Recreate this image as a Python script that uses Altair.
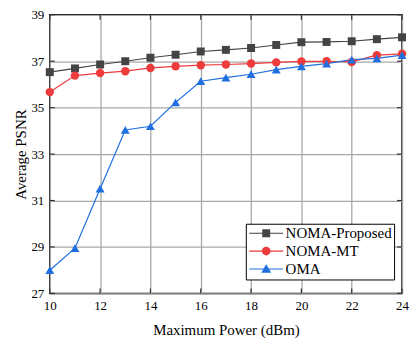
import altair as alt
import pandas as pd

power = [10, 11, 12, 13, 14, 15, 16, 17, 18, 19, 20, 21, 22, 23, 24]
noma_proposed = [36.53, 36.69, 36.86, 37.0, 37.15, 37.28, 37.42, 37.49, 37.57, 37.70, 37.82, 37.83, 37.86, 37.95, 38.03]
noma_mt = [35.67, 36.38, 36.49, 36.57, 36.71, 36.78, 36.83, 36.86, 36.90, 36.95, 36.99, 37.0, 36.97, 37.26, 37.32]
oma = [28.0, 28.95, 31.51, 34.04, 34.2, 35.23, 36.14, 36.29, 36.44, 36.64, 36.78, 36.9, 37.07, 37.12, 37.26]

series = ["NOMA-Proposed", "NOMA-MT", "OMA"]
colors = ["#444444", "#ee3b3b", "#1f6fe0"]
x_ticks = [10, 12, 14, 16, 18, 20, 22, 24]
y_ticks = [27, 29, 31, 33, 35, 37, 39]

rows = []
for name, vals in zip(series, [noma_proposed, noma_mt, oma]):
    for p, v in zip(power, vals):
        rows.append({"power": p, "psnr": v, "series": name})
df = pd.DataFrame(rows)

FONT = "Liberation Serif"
W, H = 354, 280

xscale = alt.Scale(domain=[10, 24], nice=False, zero=False)
yscale = alt.Scale(domain=[27, 39], nice=False, zero=False)

xaxis = alt.Axis(values=x_ticks, title="Maximum Power (dBm)", grid=True, ticks=False,
                 labelPadding=6, titlePadding=10, format="d", labelFlush=False)
yaxis = alt.Axis(values=y_ticks, title="Average PSNR", grid=True, ticks=False,
                 labelPadding=6, titlePadding=2, format="d", labelFlush=False)

# legend glyphs: thin bar (line) + marker, in unit coordinates
legend_paths = [
    "M-4.25,-0.14H4.25V0.14H-4.25Z M-1,-1H1V1H-1Z",
    "M-4.25,-0.14H4.25V0.14H-4.25Z M-1.1,0A1.1,1.1,0,1,1,1.1,0A1.1,1.1,0,1,1,-1.1,0Z",
    "M-4.25,-0.14H4.25V0.14H-4.25Z M0,-1.2L1.25,0.95H-1.25Z",
]

legend = alt.Legend(
    title=None,
    orient="none",
    legendX=197,
    legendY=210,
    labelFont=FONT,
    labelFontSize=15,
    labelColor="#000000",
    symbolSize=64,
    symbolOffset=11,
    labelOffset=12,
    symbolOpacity=1,
    symbolStrokeWidth=0,
    rowPadding=2,
    padding=2,
    strokeColor="#000000",
    fillColor="#ffffff",
)

base = alt.Chart(df)

lines = base.mark_line(strokeWidth=1.2).encode(
    x=alt.X("power:Q", scale=xscale, axis=xaxis),
    y=alt.Y("psnr:Q", scale=yscale, axis=yaxis),
    color=alt.Color("series:N", scale=alt.Scale(domain=series, range=colors), legend=None),
    detail="series:N",
)

points = base.mark_point(filled=True, opacity=1).encode(
    x=alt.X("power:Q", scale=xscale, axis=xaxis),
    y=alt.Y("psnr:Q", scale=yscale, axis=yaxis),
    color=alt.Color("series:N", scale=alt.Scale(domain=series, range=colors), legend=None),
    shape=alt.Shape("series:N", scale=alt.Scale(domain=series, range=["square", "circle", "triangle-up"]), legend=None),
    size=alt.Size("series:N", scale=alt.Scale(domain=series, range=[64, 80, 90]), legend=None),
)

legend_layer = base.mark_point(filled=True, opacity=0, size=64).encode(
    x=alt.X("power:Q", scale=xscale, axis=xaxis),
    y=alt.Y("psnr:Q", scale=yscale, axis=yaxis),
    color=alt.Color("series:N", scale=alt.Scale(domain=series, range=colors), sort=series, legend=legend),
    shape=alt.Shape("series:N", scale=alt.Scale(domain=series, range=legend_paths), sort=series, legend=legend),
)

xt = pd.DataFrame({"power": x_ticks})
yt = pd.DataFrame({"psnr": y_ticks})
tick_color = "#333333"
top_ticks = alt.Chart(xt).mark_rule(color=tick_color, strokeWidth=1.2).encode(
    x=alt.X("power:Q", scale=xscale, axis=xaxis), y=alt.value(0), y2=alt.value(5))
bot_ticks = alt.Chart(xt).mark_rule(color=tick_color, strokeWidth=1.2).encode(
    x=alt.X("power:Q", scale=xscale, axis=xaxis), y=alt.value(H - 5), y2=alt.value(H))
left_ticks = alt.Chart(yt).mark_rule(color=tick_color, strokeWidth=1.2).encode(
    y=alt.Y("psnr:Q", scale=yscale, axis=yaxis), x=alt.value(0), x2=alt.value(5))
right_ticks = alt.Chart(yt).mark_rule(color=tick_color, strokeWidth=1.2).encode(
    y=alt.Y("psnr:Q", scale=yscale, axis=yaxis), x=alt.value(W - 5), x2=alt.value(W))

chart = alt.layer(lines, points, legend_layer, top_ticks, bot_ticks, left_ticks, right_ticks).resolve_scale(
    shape="independent", color="independent", size="independent"
).properties(
    width=W, height=H,
    padding={"left": 42, "top": 6, "right": 7, "bottom": 45},
    autosize=alt.AutoSizeParams(type="none"),
    background="#ffffff",
).configure_view(
    stroke="#000000", strokeWidth=1.5
).configure_axis(
    labelFont=FONT, titleFont=FONT, labelFontSize=13, titleFontSize=15,
    labelColor="#000000", titleColor="#000000", titleFontWeight="normal",
    gridColor="#a8a8a8", gridWidth=1.3, domain=False,
)

chart.save("out.html", embed_options={"renderer": "svg", "actions": False})
